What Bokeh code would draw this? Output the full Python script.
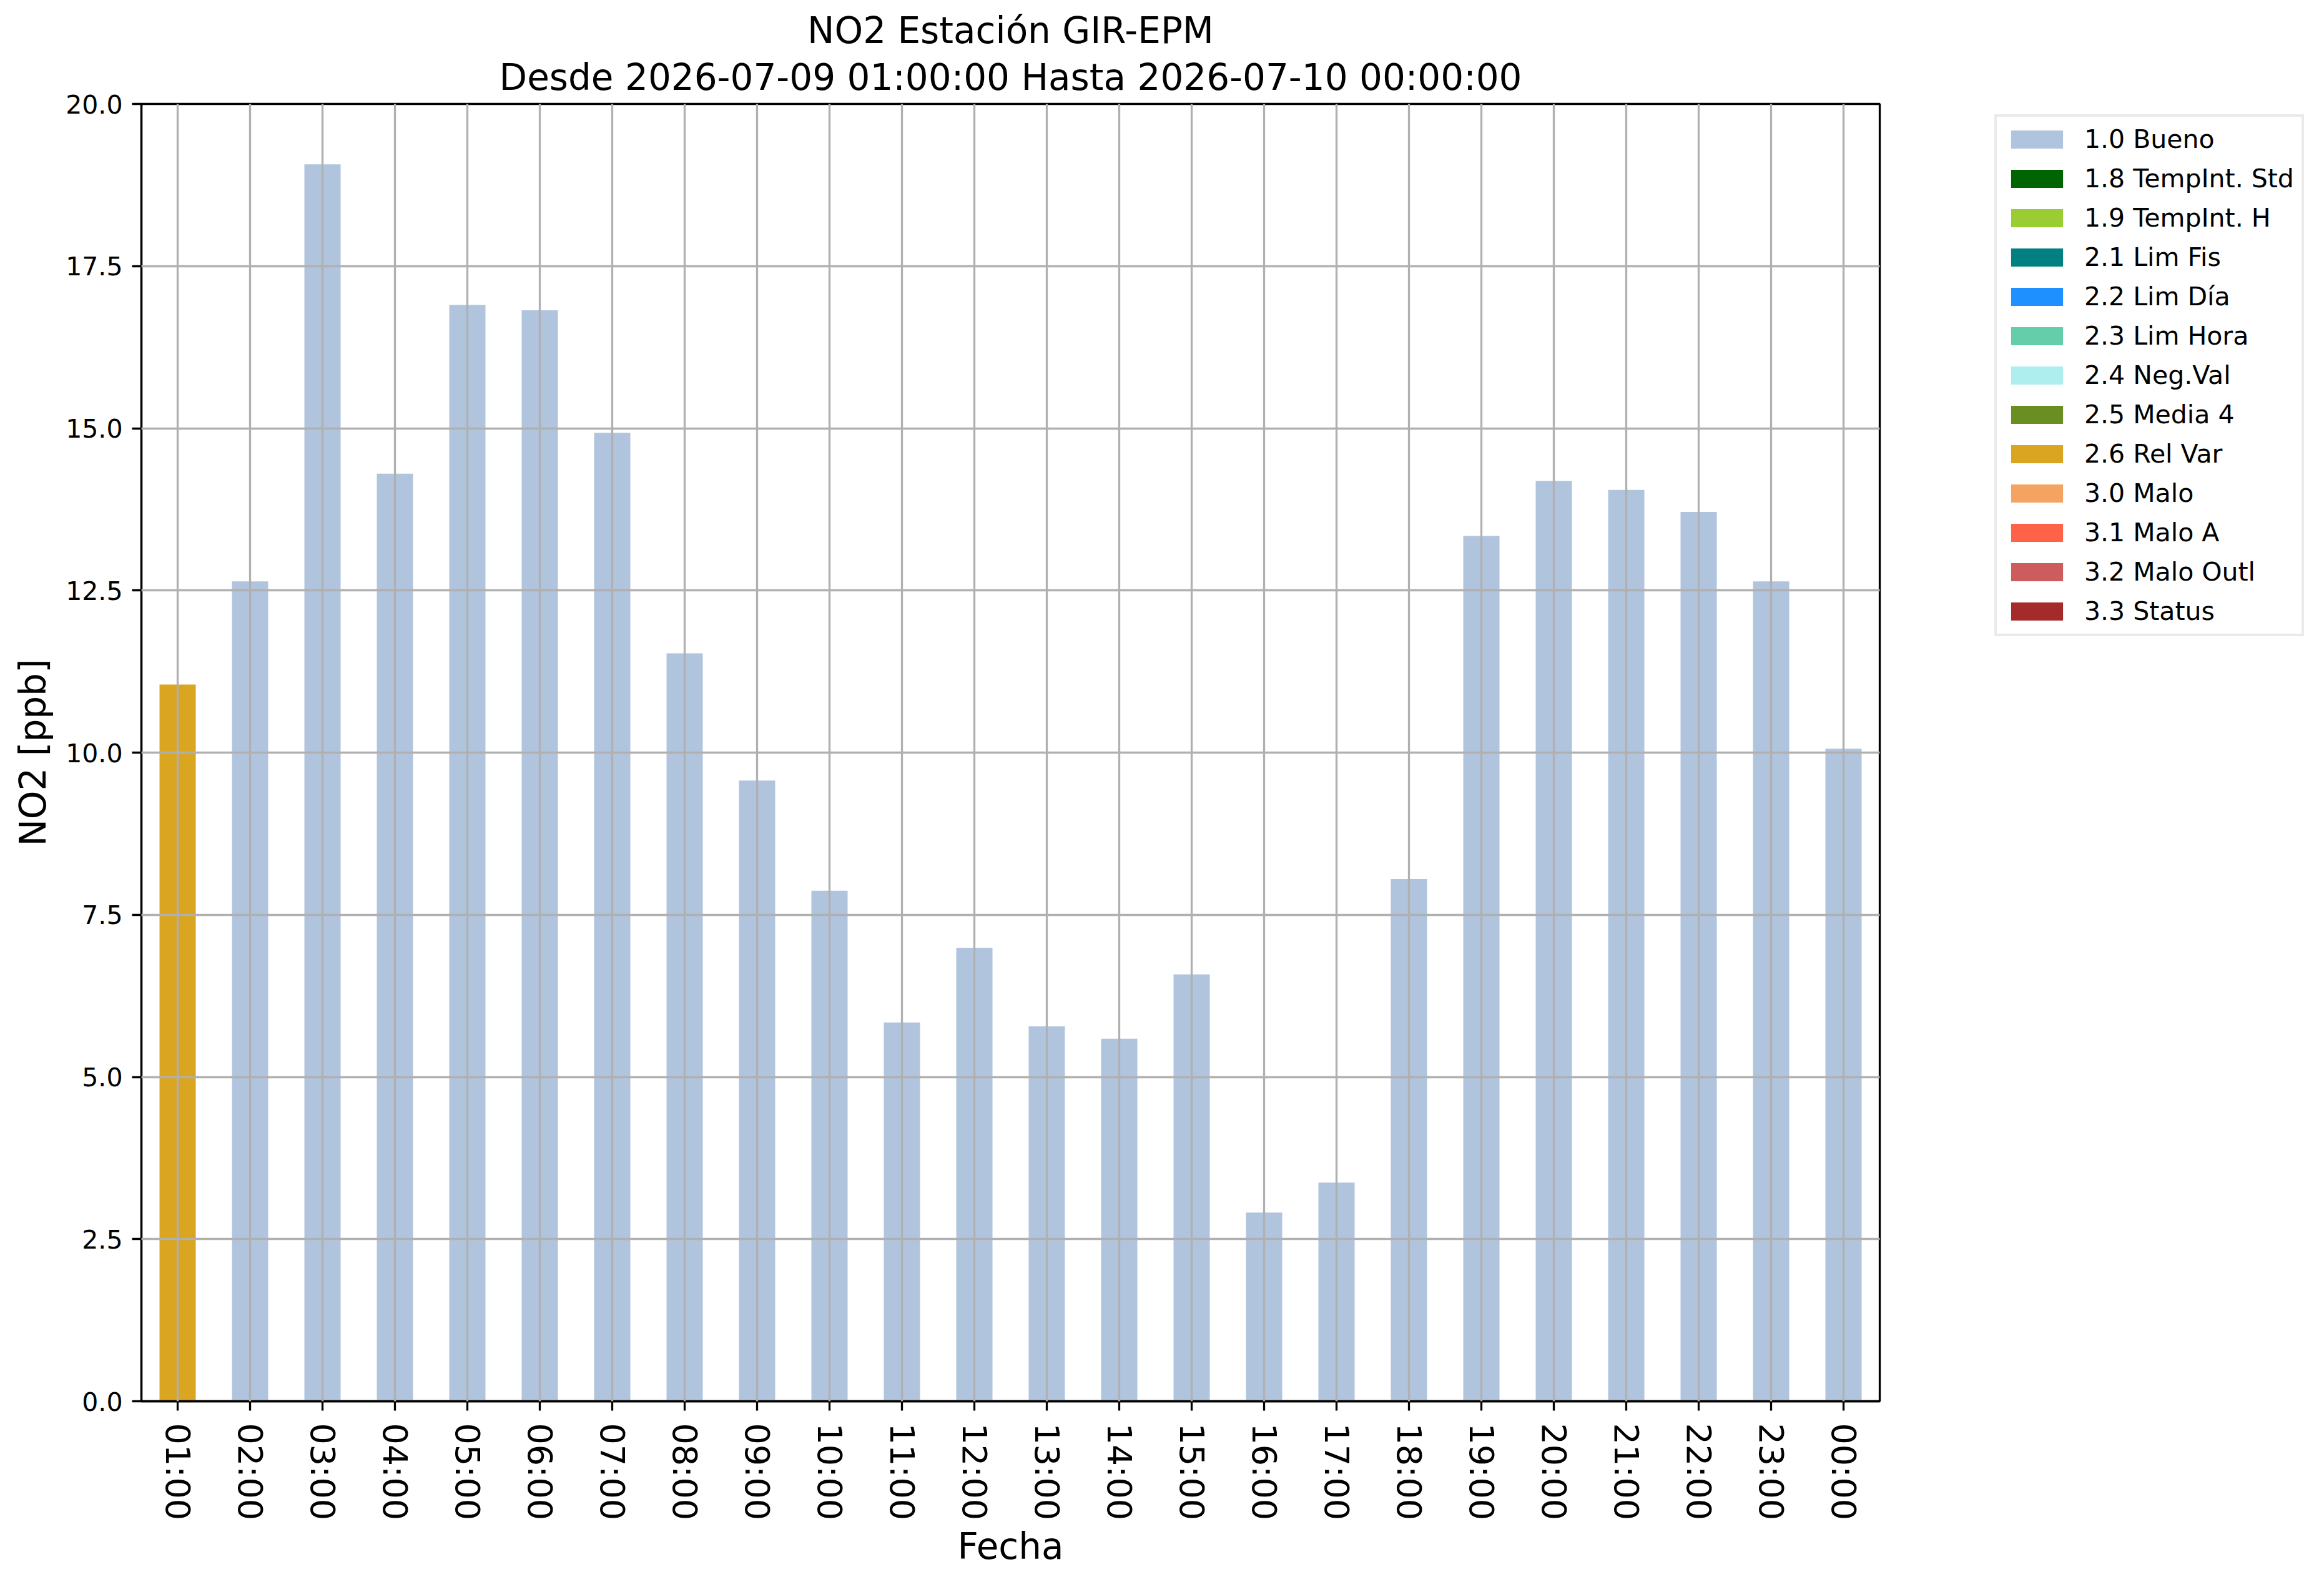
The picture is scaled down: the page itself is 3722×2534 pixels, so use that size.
import numpy as np
from bokeh.plotting import figure
from bokeh.models import (ColumnDataSource, FactorRange, Range1d, Legend, LegendItem,
                          Title, FixedTicker, PrintfTickFormatter)
from bokeh.embed import file_html
from bokeh.resources import INLINE

# ---------------- data ----------------
hours = ["01:00", "02:00", "03:00", "04:00", "05:00", "06:00", "07:00", "08:00",
         "09:00", "10:00", "11:00", "12:00", "13:00", "14:00", "15:00", "16:00",
         "17:00", "18:00", "19:00", "20:00", "21:00", "22:00", "23:00", "00:00"]
no2_ppb = [11.05, 12.64, 19.07, 14.30, 16.90, 16.82, 14.93, 11.53,
           9.57, 7.87, 5.84, 6.99, 5.78, 5.59, 6.58, 2.91,
           3.37, 8.05, 13.34, 14.19, 14.05, 13.71, 12.64, 10.06]
quality_flag = ["2.6 Rel Var"] + ["1.0 Bueno"] * 23

flag_labels = ["1.0 Bueno", "1.8 TempInt. Std", "1.9 TempInt. H", "2.1 Lim Fis",
               "2.2 Lim Día", "2.3 Lim Hora", "2.4 Neg.Val", "2.5 Media 4",
               "2.6 Rel Var", "3.0 Malo", "3.1 Malo A", "3.2 Malo Outl", "3.3 Status"]
flag_colors = ["#b0c4de", "#006400", "#9acd32", "#008080",
               "#1e90ff", "#66cdaa", "#afeeee", "#6b8e23",
               "#daa520", "#f4a460", "#ff6347", "#cd5c5c", "#a52a2a"]

y_ticks = [0.0, 2.5, 5.0, 7.5, 10.0, 12.5, 15.0, 17.5, 20.0]
title_line1 = "NO2 Estación GIR-EPM"
title_line2 = "Desde 2026-07-09 01:00:00 Hasta 2026-07-10 00:00:00"
x_label = "Fecha"
y_label = "NO2 [ppb]"

FONT = "DejaVu Sans"
LW = 3.3

p = figure(x_range=FactorRange(factors=hours), y_range=Range1d(0, 20),
           frame_width=2784, frame_height=2078,
           min_border_left=226, min_border_right=696,
           min_border_top=166, min_border_bottom=274,
           output_backend="svg", toolbar_location=None,
           background_fill_color="white", border_fill_color="white")

# title (two lines): p.title is the upper line, the added Title sits next to the frame
p.title.text = title_line1
p.title.align = "center"
p.title.text_font = FONT
p.title.text_font_size = "58px"
p.title.text_font_style = "normal"
p.title.text_color = "black"
p.title.standoff = -7
t2 = Title(text=title_line2, align="center", text_font=FONT, text_font_size="58px",
           text_font_style="normal", text_color="black", standoff=17)
p.add_layout(t2, "above")

# bars + legend items (unused flags get a NaN placeholder so the legend swatch draws)
items = []
for lab, col in zip(flag_labels, flag_colors):
    idx = [i for i, f in enumerate(quality_flag) if f == lab]
    if idx:
        xs = [hours[i] for i in idx]
        tops = np.array([no2_ppb[i] for i in idx], dtype=float)
    else:
        xs = [hours[0]]
        tops = np.array([np.nan])
    src = ColumnDataSource(dict(x=xs, top=tops))
    r = p.vbar(x="x", top="top", bottom=0, width=0.5, source=src,
               fill_color=col, line_color=None)
    items.append(LegendItem(label=lab, renderers=[r]))

legend = Legend(items=items, location=(184, 1225), margin=0,
                padding=12, spacing=15, glyph_width=104, glyph_height=36,
                label_standoff=24, label_text_font=FONT, label_text_font_size="41px",
                label_text_color="black",
                border_line_color="#d6d6d6", border_line_width=4,
                background_fill_color="white", background_fill_alpha=1.0)
p.add_layout(legend, "right")

# axes
p.yaxis.ticker = FixedTicker(ticks=y_ticks)
p.ygrid.ticker = FixedTicker(ticks=y_ticks)
p.yaxis.formatter = PrintfTickFormatter(format="%.1f")
for ax in (p.xaxis[0], p.yaxis[0]):
    ax.axis_line_color = "black"
    ax.axis_line_width = LW
    ax.major_tick_line_color = "black"
    ax.major_tick_line_width = LW
    ax.major_tick_out = 15
    ax.major_tick_in = 0
    ax.minor_tick_line_color = None
    ax.major_label_text_font = FONT
    ax.major_label_text_color = "black"
    ax.axis_label_text_font = FONT
    ax.axis_label_text_font_size = "58px"
    ax.axis_label_text_font_style = "normal"
    ax.axis_label_text_color = "black"

p.yaxis.major_label_text_font_size = "41px"
p.yaxis.major_label_standoff = 15
p.yaxis.axis_label = y_label
p.yaxis.axis_label_standoff = 15

p.xaxis.major_label_text_font_size = "54px"
p.xaxis.major_label_orientation = "vertical"
p.xaxis.major_label_standoff = 20
p.xaxis.axis_label = x_label
p.xaxis.axis_label_standoff = 5

for g in (p.xgrid[0], p.ygrid[0]):
    g.grid_line_color = "#b0b0b0"
    g.grid_line_width = LW
    g.level = "overlay"

p.outline_line_color = "black"
p.outline_line_width = LW
p.outline_line_alpha = 1.0

open("out.html", "w").write(file_html(p, INLINE))
